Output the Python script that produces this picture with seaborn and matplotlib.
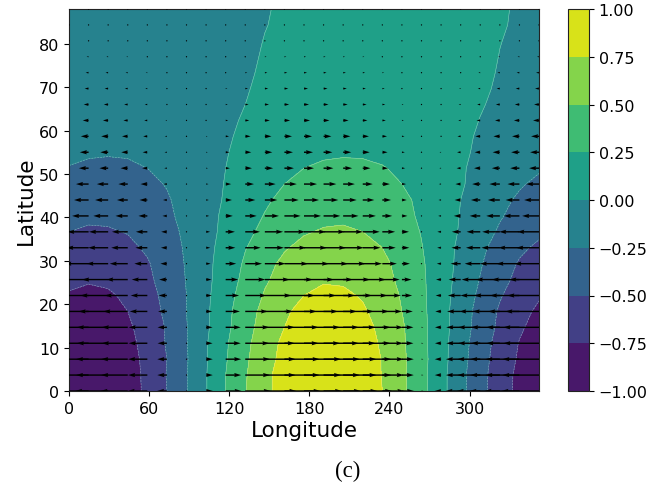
import numpy as np
import matplotlib
matplotlib.use('Agg')
import matplotlib.pyplot as plt
import seaborn as sns

# grid of the reference: 25 longitudes and 25 latitudes
lons = [0, 14.67, 29.33, 44, 58.67, 73.33, 88, 102.67, 117.33, 132, 146.67, 161.33, 176,
        190.67, 205.33, 220, 234.67, 249.33, 264, 278.67, 293.33, 308, 322.67, 337.33, 352]
lats = [0, 3.67, 7.33, 11, 14.67, 18.33, 22, 25.67, 29.33, 33, 36.67, 40.33, 44,
        47.67, 51.33, 55, 58.67, 62.33, 66, 69.67, 73.33, 77, 80.67, 84.33, 88]

# shaded field, estimated from the contour positions, one row per latitude
field = [
    [-.97, -.99, -.96, -.86, -.70, -.50, -.26, -.01, .25, .49, .69, .85, .96, .99, .98, .89, .75, .55, .33, .08, -.18, -.42, -.64, -.81, -.93],
    [-.97, -.99, -.96, -.85, -.70, -.49, -.26, -.01, .25, .48, .69, .85, .95, .99, .97, .89, .74, .55, .32, .08, -.18, -.42, -.63, -.81, -.93],
    [-.95, -.975, -.94, -.84, -.69, -.50, -.27, -.02, .23, .46, .66, .82, .93, .97, .96, .88, .74, .55, .33, .09, -.16, -.40, -.61, -.78, -.90],
    [-.92, -.945, -.91, -.82, -.67, -.48, -.26, -.02, .22, .44, .64, .80, .90, .94, .93, .85, .72, .54, .32, .09, -.15, -.38, -.59, -.76, -.88],
    [-.87, -.905, -.88, -.79, -.65, -.48, -.26, -.04, .19, .41, .60, .75, .86, .90, .89, .82, .70, .53, .32, .10, -.13, -.35, -.55, -.72, -.83],
    [-.83, -.86, -.83, -.75, -.62, -.45, -.25, -.04, .18, .39, .57, .72, .81, .86, .85, .78, .66, .50, .31, .09, -.12, -.34, -.53, -.68, -.79],
    [-.77, -.80, -.78, -.71, -.59, -.43, -.25, -.05, .16, .35, .52, .66, .75, .80, .79, .73, .62, .48, .30, .10, -.10, -.30, -.48, -.62, -.73],
    [-.70, -.73, -.71, -.65, -.55, -.40, -.24, -.06, .13, .31, .47, .59, .68, .73, .72, .67, .58, .45, .29, .11, -.08, -.26, -.43, -.56, -.66],
    [-.65, -.68, -.67, -.61, -.52, -.39, -.23, -.06, .11, .28, .43, .55, .63, .67, .67, .63, .55, .43, .28, .11, -.06, -.23, -.39, -.52, -.61],
    [-.58, -.61, -.60, -.55, -.47, -.36, -.22, -.07, .09, .24, .37, .48, .56, .60, .61, .57, .50, .39, .26, .11, -.05, -.20, -.34, -.46, -.54],
    [-.50, -.53, -.52, -.49, -.42, -.32, -.21, -.08, .06, .19, .31, .41, .48, .52, .53, .50, .44, .35, .24, .11, -.02, -.15, -.28, -.38, -.46],
    [-.43, -.46, -.46, -.43, -.37, -.29, -.19, -.07, .04, .16, .26, .35, .41, .45, .46, .44, .39, .31, .22, .11, -.01, -.13, -.23, -.33, -.40],
    [-.37, -.40, -.41, -.39, -.34, -.27, -.18, -.08, .02, .13, .22, .30, .36, .40, .41, .39, .35, .29, .21, .11, .00, -.10, -.20, -.28, -.35],
    [-.31, -.34, -.35, -.33, -.29, -.24, -.16, -.08, .01, .10, .18, .25, .30, .34, .35, .34, .31, .25, .19, .10, .02, -.07, -.16, -.23, -.29],
    [-.26, -.28, -.29, -.28, -.25, -.20, -.145, -.08, -.00, .07, .14, .20, .25, .28, .29, .28, .26, .22, .16, .10, .02, -.05, -.12, -.18, -.23],
    [-.20, -.23, -.235, -.23, -.21, -.17, -.125, -.07, -.01, .05, .11, .16, .19, .22, .23, .23, .21, .18, .14, .09, .03, -.03, -.09, -.14, -.19],
    [-.16, -.18, -.19, -.19, -.17, -.145, -.11, -.066, -.019, .03, .076, .118, .152, .176, .188, .189, .177, .153, .12, .078, .032, -.017, -.064, -.107, -.143],
    [-.12, -.139, -.149, -.149, -.139, -.121, -.094, -.062, -.025, .013, .051, .085, .113, .134, .147, .15, .143, .127, .102, .071, .035, -.003, -.04, -.076, -.106],
    [-.089, -.107, -.117, -.12, -.115, -.102, -.083, -.059, -.03, 0, .03, .059, .083, .102, .115, .12, .117, .107, .089, .066, .038, .008, -.022, -.051, -.077],
    [-.063, -.077, -.086, -.09, -.088, -.08, -.067, -.05, -.029, -.006, .017, .039, .058, .073, .084, .09, .089, .083, .071, .055, .035, .013, -.01, -.033, -.053],
    [-.046, -.058, -.066, -.07, -.069, -.064, -.054, -.042, -.026, -.009, .009, .027, .042, .055, .064, .069, .07, .066, .057, .045, .03, .013, -.004, -.022, -.038],
    [-.031, -.04, -.046, -.05, -.05, -.047, -.04, -.032, -.021, -.009, .004, .017, .028, .038, .045, .049, .05, .048, .042, .034, .024, .012, -.001, -.013, -.025],
    [-.02, -.027, -.032, -.034, -.035, -.033, -.029, -.024, -.016, -.008, .001, .01, .018, .025, .03, .034, .035, .034, .031, .025, .018, .01, .001, -.007, -.016],
    [-.011, -.015, -.017, -.019, -.02, -.019, -.017, -.014, -.01, -.006, -.001, .005, .009, .014, .017, .019, .02, .02, .018, .015, .011, .007, .002, -.003, -.008],
    [-.005, -.007, -.009, -.01, -.01, -.01, -.009, -.007, -.006, -.003, -.001, .002, .004, .006, .008, .009, .01, .01, .009, .008, .006, .004, .001, -.001, -.004],
]

# arrow strength per latitude row and its sign and share along longitude
arrow_strength = [38, 37, 37, 36, 36, 34, 32, 30, 25, 23, 22, 17, 15, 13, 10, 9, 8, 6, 5, 4, 3, 2, 1, 1, .5]
arrow_shape = [-1, -.97, -.87, -.72, -.52, -.26, -.02, .18, .42, .67, .83, .95, 1, .98, .9, .77, .58,
               .32, .05, -.17, -.4, -.62, -.8, -.92, -.99]

levels = [-1, -.75, -.5, -.25, 0, .25, .5, .75, 1]
xticks = [0, 60, 120, 180, 240, 300]
yticks = [0, 10, 20, 30, 40, 50, 60, 70, 80]

sns.set_style('ticks', {'text.color': 'black', 'axes.labelcolor': 'black', 'xtick.color': 'black',
                        'ytick.color': 'black', 'axes.edgecolor': '#222222'})
plt.rcParams['font.family'] = ['DejaVu Sans']
plt.rcParams['xtick.labelsize'] = 11.5
plt.rcParams['ytick.labelsize'] = 11.5

w, h = 671, 485
fig = plt.figure(figsize=(w / 100, h / 100), dpi=100)
ax = fig.add_axes([69 / w, 1 - 392 / h, 470 / w, 382 / h])
cax = fig.add_axes([568 / w, 1 - 392 / h, 21 / w, 382 / h])

cmap = sns.color_palette('viridis', as_cmap=True)
cf = ax.contourf(lons, lats, field, levels=levels, cmap=cmap)
ax.contour(lons, lats, field, levels=levels[1:-1], colors='white', linewidths=0.4, alpha=0.45)

u = np.outer(arrow_strength, arrow_shape)
ax.quiver(lons, lats, u, np.zeros_like(u), scale=470, width=0.003, color='black', zorder=3)

ax.set_xlim(0, 352)
ax.set_ylim(0, 88)
ax.set_xticks(xticks)
ax.set_yticks(yticks)
ax.set_xlabel('Longitude', fontsize=15.5, labelpad=3)
ax.set_ylabel('Latitude', fontsize=15.5, labelpad=2)

cb = fig.colorbar(cf, cax=cax)
cb.set_ticks(levels)
cb.ax.set_yticklabels(['\u22121.00', '\u22120.75', '\u22120.50', '\u22120.25', '0.00', '0.25', '0.50', '0.75', '1.00'])

fig.text(348 / w, 1 - 471 / h, '(c)', family='Liberation Serif', fontsize=16.5, ha='center', va='center')
fig.savefig('out.png', dpi=100)
plt.close()
